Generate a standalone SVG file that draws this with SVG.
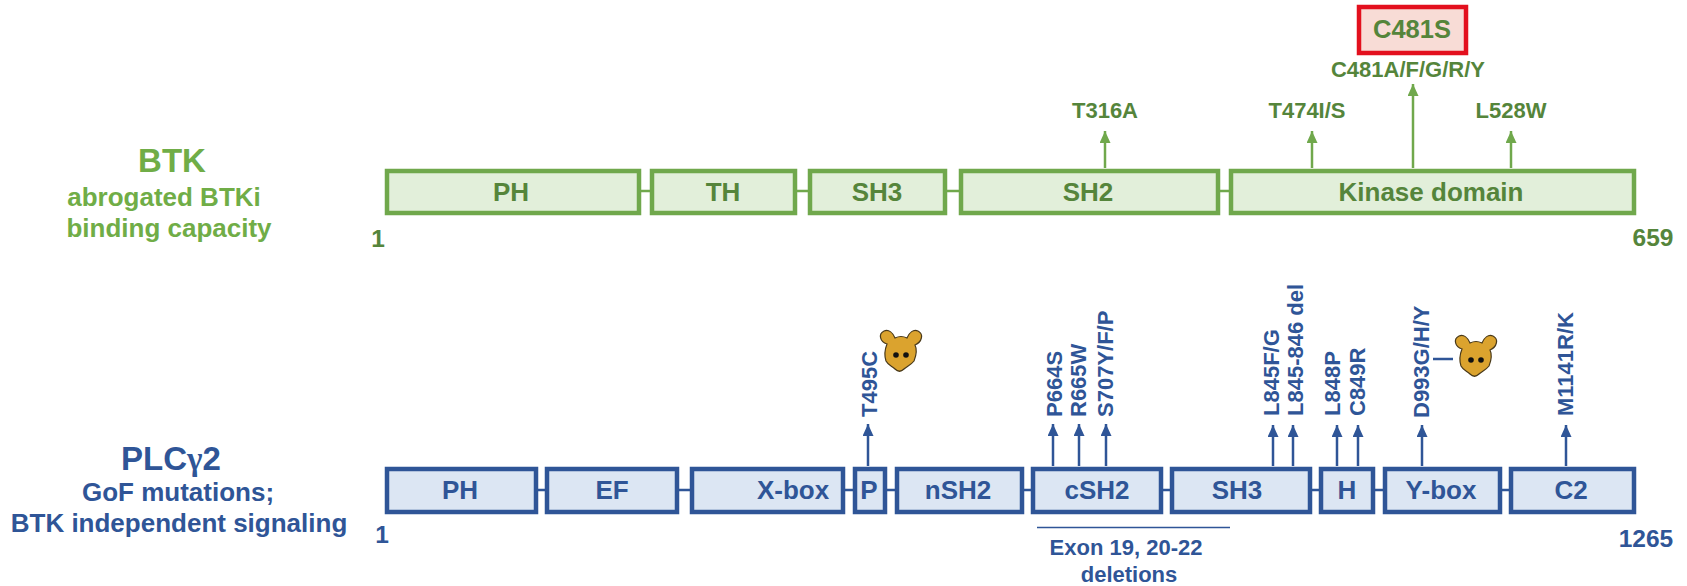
<svg xmlns="http://www.w3.org/2000/svg" width="1687" height="586" viewBox="0 0 1687 586">
<style>
text{font-family:"Liberation Sans",Arial,sans-serif;font-weight:700;text-anchor:middle}
.g{fill:#e2efda;stroke:#70a84c;stroke-width:4.5}
.b{fill:#dce6f3;stroke:#2f5597;stroke-width:4.5}
.tg{fill:#55853b}.tb{fill:#2f5597}.lg{fill:#70ad47}
.dom{font-size:26px}.mut{font-size:22px}.sub{font-size:26px}.end{font-size:24.500px}
.cg{stroke:#70a84c;stroke-width:2.500;fill:none}
.cb{stroke:#2f5597;stroke-width:2.500;fill:none}
.r{text-anchor:start}
</style>
<defs>
<marker id="ag" markerUnits="userSpaceOnUse" markerWidth="14" markerHeight="12" refX="12" refY="5.500" orient="auto"><path d="M0 0L12 5.500L0 11Z" fill="#70a84c"/></marker>
<marker id="ab" markerUnits="userSpaceOnUse" markerWidth="14" markerHeight="12" refX="12" refY="5.500" orient="auto"><path d="M0 0L12 5.500L0 11Z" fill="#2f5597"/></marker>
<g id="mouse">
<path d="M-14-10C-21-12-23-20-17-23C-12-25-8-21-6-16C-2-18 2-18 6-16C8-21 12-25 17-23C23-20 21-12 14-9C16-5 15 2 13 7C10 11 6 12 3 15C0 18-3 18-6 15C-9 12-13 11-15 7C-17 1-16-5-14-10Z" fill="#dba32e" stroke="#4a3a1a" stroke-width="1.200"/>
<circle cx="-5" cy="1" r="2.800" fill="#111"/><circle cx="5" cy="1" r="2.800" fill="#111"/>
</g>
</defs>
<g id="connectors">
<path class="cg" d="M640 191H651M796 191H809M946 191H960M1219 191H1231"/>
<path class="cb" d="M537 490H546M678 490H691M844 490H854M886 490H896M1023 490H1032M1162 490H1171M1311 490H1320M1374 490H1384M1501 490H1510"/>
<path class="cg" d="M1105 168V131" marker-end="url(#ag)"/>
<path class="cg" d="M1312 168V131" marker-end="url(#ag)"/>
<path class="cg" d="M1413 168V84" marker-end="url(#ag)"/>
<path class="cg" d="M1511 168V131" marker-end="url(#ag)"/>
<path class="cb" d="M868 466V424" marker-end="url(#ab)"/>
<path class="cb" d="M1053 466V424" marker-end="url(#ab)"/>
<path class="cb" d="M1079 466V424" marker-end="url(#ab)"/>
<path class="cb" d="M1106 466V424" marker-end="url(#ab)"/>
<path class="cb" d="M1273 466V425" marker-end="url(#ab)"/>
<path class="cb" d="M1293 466V425" marker-end="url(#ab)"/>
<path class="cb" d="M1337 466V425" marker-end="url(#ab)"/>
<path class="cb" d="M1358 466V425" marker-end="url(#ab)"/>
<path class="cb" d="M1422 466V425" marker-end="url(#ab)"/>
<path class="cb" d="M1566 466V425" marker-end="url(#ab)"/>
<path class="cb" d="M1433 359H1453"/>
<path d="M1037 527.500H1230" stroke="#2f5597" stroke-width="1.500" fill="none"/>
</g>
<g id="btk-label">
<text class="lg" x="172" y="172" font-size="33">BTK</text>
<text class="lg sub" x="164" y="206">abrogated BTKi</text>
<text class="lg sub" x="169" y="237">binding capacity</text>
<text class="tg end" x="378" y="247">1</text>
<text class="tg end" x="1653" y="246">659</text>
</g>
<g id="btk-ph"><rect class="g" x="387" y="171" width="252" height="42"/><text class="tg dom" x="511" y="201">PH</text></g>
<g id="btk-th"><rect class="g" x="652" y="171" width="143" height="42"/><text class="tg dom" x="723" y="201">TH</text></g>
<g id="btk-sh3"><rect class="g" x="810" y="171" width="135" height="42"/><text class="tg dom" x="877" y="201">SH3</text></g>
<g id="btk-sh2"><rect class="g" x="961" y="171" width="257" height="42"/><text class="tg dom" x="1088" y="201">SH2</text></g>
<g id="btk-kinase"><rect class="g" x="1231" y="171" width="403" height="42"/><text class="tg dom" x="1431" y="201">Kinase domain</text></g>
<g id="c481s"><rect x="1359" y="7" width="107" height="46" fill="#f8dcd6" stroke="#e3101e" stroke-width="4.500"/><text class="tg" x="1412" y="38" font-size="25.500">C481S</text></g>
<g id="btk-mutations">
<text class="tg mut" x="1408" y="77">C481A/F/G/R/Y</text>
<text class="tg mut" x="1105" y="118">T316A</text>
<text class="tg mut" x="1307" y="118">T474I/S</text>
<text class="tg mut" x="1511" y="118">L528W</text>
</g>
<g id="plc-label">
<text class="tb" x="171" y="470" font-size="33">PLC<tspan font-family="Liberation Serif">γ</tspan>2</text>
<text class="tb sub" x="178" y="501">GoF mutations;</text>
<text class="tb sub" x="179" y="532">BTK independent signaling</text>
<text class="tb end" x="382" y="543">1</text>
<text class="tb end" x="1646" y="547">1265</text>
</g>
<g id="plc-ph"><rect class="b" x="387" y="469" width="149" height="43"/><text class="tb dom" x="460" y="499">PH</text></g>
<g id="plc-ef"><rect class="b" x="547" y="469" width="130" height="43"/><text class="tb dom" x="612" y="499">EF</text></g>
<g id="plc-xbox"><rect class="b" x="692" y="469" width="151" height="43"/><text class="tb dom" x="793" y="499">X-box</text></g>
<g id="plc-p"><rect class="b" x="855" y="469" width="30" height="43"/><text class="tb dom" x="869" y="499">P</text></g>
<g id="plc-nsh2"><rect class="b" x="897" y="469" width="125" height="43"/><text class="tb dom" x="958" y="499">nSH2</text></g>
<g id="plc-csh2"><rect class="b" x="1033" y="469" width="128" height="43"/><text class="tb dom" x="1097" y="499">cSH2</text></g>
<g id="plc-sh3"><rect class="b" x="1172" y="469" width="138" height="43"/><text class="tb dom" x="1237" y="499">SH3</text></g>
<g id="plc-h"><rect class="b" x="1321" y="469" width="52" height="43"/><text class="tb dom" x="1347" y="499">H</text></g>
<g id="plc-ybox"><rect class="b" x="1385" y="469" width="115" height="43"/><text class="tb dom" x="1441" y="499">Y-box</text></g>
<g id="plc-c2"><rect class="b" x="1511" y="469" width="123" height="43"/><text class="tb dom" x="1571" y="499">C2</text></g>
<g id="plc-mutations">
<text class="tb mut r" transform="translate(877 417) rotate(-90)">T495C</text>
<text class="tb mut r" transform="translate(1062 417) rotate(-90)">P664S</text>
<text class="tb mut r" transform="translate(1086 417) rotate(-90)">R665W</text>
<text class="tb mut r" transform="translate(1113 417) rotate(-90)">S707Y/F/P</text>
<text class="tb mut r" transform="translate(1279 416) rotate(-90)">L845F/G</text>
<text class="tb mut r" transform="translate(1303 416) rotate(-90)">L845-846 del</text>
<text class="tb mut r" transform="translate(1340 416) rotate(-90)">L848P</text>
<text class="tb mut r" transform="translate(1365 416) rotate(-90)">C849R</text>
<text class="tb mut r" transform="translate(1429 418) rotate(-90)">D993G/H/Y</text>
<text class="tb mut r" transform="translate(1573 416) rotate(-90)">M1141R/K</text>
</g>
<g id="exon-label">
<text class="tb" x="1126" y="555" font-size="22">Exon 19, 20-22</text>
<text class="tb" x="1129" y="582" font-size="22">deletions</text>
</g>
<g id="mouse-1"><use href="#mouse" x="901" y="354"/></g>
<g id="mouse-2"><use href="#mouse" x="1476" y="359"/></g>
</svg>
